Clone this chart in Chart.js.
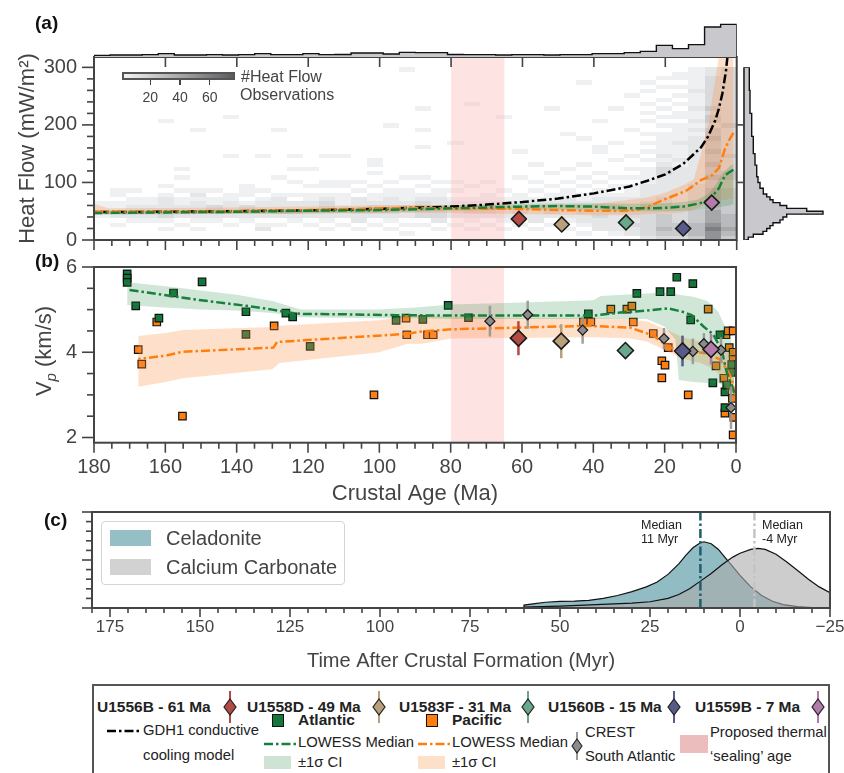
<!DOCTYPE html>
<html lang="en">
<head>
<meta charset="utf-8">
<title>Crustal age: heat flow, Vp and alteration timing</title>
<script src="https://cdn.jsdelivr.net/npm/chart.js@4.4.1/dist/chart.umd.min.js"></script>
<style>
html, body { margin: 0; padding: 0; background: #ffffff; }
body { position: relative; width: 844px; height: 773px; overflow: hidden;
  font-family: "Liberation Sans", Arial, Helvetica, sans-serif; color: #444; }
canvas { position: absolute; }
.lbl { position: absolute; white-space: nowrap; line-height: 1.15; transform: translateY(-50%); }
.panel { font-weight: bold; font-size: 19px; color: #111; }
.box { position: absolute; box-sizing: border-box; }
svg { position: absolute; overflow: visible; }
</style>
</head>
<body>
<canvas id="cHeat" width="844" height="262" style="left:0;top:0"></canvas>
<canvas id="cAgeHist" width="844" height="60" style="left:0;top:0"></canvas>
<canvas id="cHfHist" width="108" height="262" style="left:736px;top:0"></canvas>
<canvas id="cVp" width="844" height="265" style="left:0;top:250px"></canvas>
<canvas id="cTime" width="844" height="175" style="left:0;top:500px"></canvas>
<div id="overlay"></div>
<script>
// ================= data: panel (a) heat flow =================
const AGE_MAX = 180;              // Ma
const AGE_BIN = 4.5;              // Ma per heat-flow density column
const HF_BIN = 7.5;               // mW/m2 per heat-flow density row
const HF_TOP = 318;               // upper heat-flow limit shown
const SEALING_AGE = [65, 80];     // proposed thermal sealing window, Ma

// representative observation count of each density class (0 = empty)
const DENSITY_CLASS_COUNTS = [0, 3, 8, 14, 22, 30, 40, 50, 60, 70];
// one string per age column, oldest (180-175.5 Ma) first: "row:class" pairs
const heatColumns = [
  "5:1 6:2 7:1 8:1",
  "3:1 5:2 6:2 7:1 8:1 10:1 11:1",
  "4:1 5:2 6:3 7:2 8:1 9:1 11:1",
  "4:1 5:2 6:2 7:2 8:1 9:1",
  "2:1 4:1 5:3 6:3 7:2 8:2 9:2 10:1 12:1 27:1",
  "3:1 5:2 6:2 7:2 8:1 9:1 11:1 14:1 16:1",
  "2:1 4:1 5:2 6:3 7:2 8:2 9:1 10:2 11:1 25:1",
  "4:1 5:2 6:3 7:3 8:1 9:1 11:1",
  "3:1 5:2 6:2 7:2 8:2 9:1 10:1 19:1 28:1",
  "4:1 5:2 6:2 7:3 8:1 10:1 11:1 12:1",
  "2:2 3:1 5:2 6:2 7:2 8:2 9:1 11:1 19:1",
  "3:1 5:2 6:3 7:2 8:2 9:2 10:1 14:1 25:1",
  "4:1 5:2 6:3 7:2 8:2 10:1 13:1 16:1 19:1",
  "3:1 5:2 6:2 7:2 8:2 9:1 10:1 12:1 16:1",
  "2:1 4:1 5:2 6:2 7:3 8:3 9:2 10:1 12:1 13:1 19:1",
  "3:1 5:2 6:2 7:2 8:1 9:1 10:1 12:1 13:1 19:1",
  "2:1 4:2 5:2 6:3 7:2 8:2 9:2 11:1 13:1",
  "3:1 5:2 6:3 7:3 8:2 9:1 10:1 12:1 15:1 17:1 18:1",
  "2:1 4:1 5:2 6:3 7:3 8:2 9:2 10:1 11:1 13:1 26:1",
  "1:1 3:1 5:2 6:2 7:3 8:2 9:1 10:1 11:1 14:1 39:1",
  "3:1 5:3 6:3 7:4 8:3 9:2 10:1 12:1 14:1 21:1 25:1 30:1",
  "2:1 4:2 5:3 6:3 7:3 8:2 9:2 10:1 11:1 13:1",
  "3:1 5:2 6:2 7:2 8:2 9:1 11:1 13:1 22:1",
  "2:1 4:1 5:2 6:3 7:2 8:2 9:1 12:1 31:1",
  "3:1 5:2 6:3 7:3 8:2 9:1 10:1 13:1",
  "2:1 4:1 5:2 6:2 7:2 8:2 9:1 11:1 28:1",
  "3:1 5:2 6:3 7:2 8:2 9:1 10:1 14:1 20:1",
  "2:1 4:2 5:2 6:2 7:2 8:2 9:1 11:1 13:1 17:1",
  "3:1 5:2 6:3 7:2 8:2 9:1 10:1 12:1 15:1 30:1",
  "2:1 4:1 5:2 6:2 7:2 8:2 9:2 10:1 11:1 13:1 16:1 24:1",
  "1:1 3:1 4:2 5:2 6:3 7:2 8:2 9:1 10:1 12:1 14:1 17:1 23:1 36:1",
  "2:2 3:2 4:2 5:3 6:3 7:2 8:2 9:2 10:1 11:1 13:1 15:1 20:1 21:1 27:1",
  "1:1 2:2 3:2 4:2 5:2 6:3 7:3 8:2 9:2 10:1 12:1 14:1 18:1 22:1 30:1",
  "1:2 2:2 3:3 4:2 5:3 6:3 7:2 8:2 9:2 10:1 11:1 12:1 14:1 16:1 19:1 25:1 33:1",
  "0:2 1:3 2:3 3:3 4:3 5:3 6:3 7:3 8:3 9:2 10:2 11:2 12:2 13:1 14:1 15:1 16:1 18:1 20:1 22:1 24:1 27:1 29:1 31:1 34:1 36:1",
  "0:3 1:4 2:5 3:4 4:4 5:4 6:3 7:3 8:3 9:3 10:2 11:2 12:2 13:2 14:2 15:3 16:3 17:2 18:1 19:2 20:1 21:1 22:1 23:1 24:1 26:1 28:1 30:1 32:1 35:1 37:1",
  "0:3 1:4 2:4 3:4 4:3 5:3 6:3 7:3 8:2 9:2 10:2 11:2 12:2 13:2 14:2 15:2 16:2 17:1 18:2 19:1 20:1 21:1 22:2 23:1 24:1 25:1 26:1 28:1 29:1 31:1 33:1 35:1 37:1 38:1",
  "0:4 1:5 2:5 3:5 4:4 5:4 6:4 7:3 8:3 9:3 10:3 11:3 12:3 13:2 14:2 15:2 16:2 17:2 18:2 19:2 20:2 21:2 22:2 23:2 24:1 25:2 26:1 27:2 28:1 29:1 30:2 31:1 32:1 33:1 34:2 35:1 36:1 37:1 38:1 39:1",
  "0:7 1:7 2:8 3:7 4:6 5:6 6:6 7:5 8:5 9:5 10:5 11:5 12:4 13:4 14:5 15:4 16:4 17:5 18:4 19:4 20:5 21:4 22:4 23:5 24:4 25:4 26:3 27:4 28:4 29:3 30:4 31:3 32:3 33:3 34:3 35:3 36:3 37:3 38:2 39:2",
  "0:4 1:5 2:6 3:5 4:5 5:5 6:4 7:4 8:4 9:4 10:4 11:4 12:3 13:3 14:4 15:4 16:3 17:3 18:3 19:4 20:3 21:3 22:3 23:3 24:3 25:3 26:4 27:3 28:3 29:3 30:3 31:3 32:3 33:3 34:3 35:3 36:3 37:3 38:3 39:3"
];
const COUNT_MIN = 1, COUNT_MAX = 77;   // colour-bar range

// marginal histogram of sites per 4.5 Ma age bin, youngest (0-4.5 Ma) first
const ageHistCounts = [1960,1800,740,500,700,340,260,200,200,140, 140,120,140,140,120,140,140,150,260,260,
                       280,180,240,240,150,140,200,140,140,200, 140,120,140,120,120,200,140,120,120,100];
// marginal histogram of sites per 5 mW/m2 heat-flow bin, 0-5 first
const HF_HIST_BIN = 5;
const hfHistCounts = [86,186,380,454,520,580,720,780,854,1580, 1254,854,720,580,520,454,386,386,320,320,
                      280,280,254,254,254,254,220,220,220,220, 186,186,186,186,186,186,
                      154,154,154,154,154,154,154,154, 120,120,120,120,120,120,120,120,
                      106,106,106,106,106,106,106,106];

// GDH1 conductive cooling model
const gdhAge = [2.6,3,4,5,6,8,10,15,20,25,30,40,50,60,70,80,100,120,140,160,180];
const gdhHF  = [318,294,255,228,208,180,161,132,114,103,93,81,72,66,61.5,58,54,51.5,50,49,48.5];
// Pacific LOWESS median and ±1σ band of heat flow
const pacAgeA = [0.9,2,3.3,5,7,10,14,18,22,24,28,32,40,50,60,80,100,120,140,160,176,180];
const pacHFA  = [186,175,158,125,112,104,86,76,66,60,52,51,51,52,54,55,55,52,50,49,49,49];
const pacCiAgeA = [0.9,5,6.5,8,10,12,15,20,25,30,40,60,80,100,120,150,176,180];
const pacCiLoA  = [72,69,66,63,58,53,48,46,45,43,43,45,47,47,46,45,45,45];
const pacCiHiA  = [318,318,260,200,150,105,95,82,74,70,62,60,61,60,58,56,55,63];
// Atlantic LOWESS median and ±1σ band of heat flow
const atlAgeA = [0.9,2,3.3,5,7,9,11,15,20,25,30,40,50,60,80,100,120,140,160,180];
const atlHFA  = [122,118,112,90,75,66,63,58,56,55,55,58,59,58,55,52,51,49,48,47];
const atlCiAgeA = [0.9,2,4,6,8,11,15,20,30,40,60,80,100,120,150,180];
const atlCiLoA  = [62,60,58,56,54,52,51,50,50,52,53,51,48,46,45,44];
const atlCiHiA  = [132,128,115,95,80,70,66,64,63,64,63,60,57,54,52,51];

// drill sites
const siteNames = ['U1556B', 'U1558D', 'U1583F', 'U1560B', 'U1559B'];
const siteAges = [61, 49, 31, 15, 7];
const siteHeatFlow = [36.5, 27, 30.5, 20, 65];
const siteVp = [4.33, 4.26, 4.04, 4.03, 4.07];
const siteVpErr = [0.4, 0.4, 0, 0.36, 0.36];

// ================= data: panel (b) Vp =================
const atlSqAge = [170.7,170.7,170.7,168.3,161.8,157.7,149.7,137.4,137.4,126.2,124.3,119.4,95.3,87.8,80.7,75.0,
                  41.4,27.8,21.3,18.3,16.6,12.1,12.7,6.5,4.5,3.1,3.1,1.2,1.2,2.6];
const atlSqVp  = [5.84,5.74,5.64,5.09,4.80,5.39,5.65,4.95,4.42,4.92,4.83,4.14,4.75,4.77,5.10,4.81,
                  4.90,5.38,5.42,5.42,5.76,5.61,4.76,3.28,4.41,3.07,2.70,3.71,3.53,3.23];
const pacSqAge = [167.6,166.6,162.4,155.2,129.5,101.5,92.5,92.3,86.5,84.9,42.8,40.7,35.1,30.6,29.2,28.8,23.2,
                  20.8,19.9,20.8,19.0,13.4,7.8,5.6,3.4,3.1,2.8,2.2,1.9,0.8,0.8,0.8,1.0,0.6,0.8];
const pacSqVp  = [4.06,3.72,4.71,2.50,4.62,3.00,4.80,4.41,4.41,4.41,4.71,4.71,5.01,5.01,5.08,4.71,4.44,
                  3.80,3.70,3.40,4.11,3.00,5.01,3.68,3.39,2.57,4.41,4.50,4.11,4.50,4.00,3.83,2.92,2.47,2.06];
const crestAge = [69, 58.4, 43, 20.2, 12.1, 9, 4.2, 1.4];
const crestVp  = [4.73, 4.88, 4.52, 4.32, 4.02, 4.20, 4.05, 2.70];
const crestErr = [0.36, 0.33, 0.32, 0.25, 0.30, 0.25, 0.30, 0.50];

const atlAgeB = [0.5,1.2,2.6,4,6.4,9.2,12.4,15,19,25,32.5,40,60,80,95,110,122,126,130,137.4,150,157.7,165,170.7];
const atlVpB  = [3.05,3.23,3.53,4.05,4.42,4.61,4.87,4.95,5.03,4.98,4.93,4.86,4.86,4.86,4.87,4.89,4.90,4.94,5.0,5.09,5.22,5.31,5.40,5.47];
const atlCiAgeB = [0.5,1.5,3,5,8,12,16,17,20,25,38,40,60,80,90,100,122,130,140,150,160,170.7];
const atlCiLoB  = [2.90,3.10,3.20,3.28,3.28,3.30,3.35,4.30,4.60,4.78,4.78,4.78,4.78,4.78,4.80,4.80,4.82,4.92,4.98,5.00,5.05,5.11];
const atlCiHiB  = [4.00,4.30,4.60,4.95,5.20,5.30,5.35,5.38,5.40,5.38,5.32,5.22,5.17,5.12,5.05,5.00,5.00,5.20,5.35,5.45,5.55,5.64];
const pacAgeB = [0.3,1.2,2.6,4.5,8.2,14.8,19,23.2,29.7,41.9,60,79.3,87.9,92.5,110,128.7,129.7,140,155.2,160,167.6];
const pacVpB  = [3.0,3.38,3.60,3.83,3.98,4.02,4.13,4.39,4.58,4.62,4.58,4.54,4.49,4.43,4.34,4.24,4.11,4.07,4.01,3.92,3.84];
const pacCiAgeB = [0.5,2,4,6,10,15,20,25,30,40,80,88,92,100,128,130,155,160,167.6];
const pacCiLoB  = [2.6,3.0,3.4,3.6,3.75,3.85,4.05,4.25,4.33,4.35,4.32,4.20,4.20,4.0,3.75,3.60,3.39,3.3,3.19];
const pacCiHiB  = [3.8,4.0,4.1,4.2,4.25,4.35,4.55,4.72,4.78,4.80,4.82,4.88,4.84,4.75,4.62,4.59,4.52,4.45,4.38];

// ================= data: panel (c) alteration timing =================
const celTime = [-25,-20,-16,-12,-9,-6,-3,0,2,4,6,8,10,11,13,15,17,20,23,26,30,34,38,42,46,50,54,57,60,60];
const celDens = [0,0.005,0.015,0.035,0.07,0.13,0.22,0.34,0.43,0.52,0.61,0.67,0.69,0.68,0.63,0.55,0.46,0.35,0.27,0.22,
                 0.17,0.13,0.10,0.08,0.072,0.068,0.06,0.045,0.03,0];
const carbTime = [-25,-22,-19,-16,-13,-10,-7,-5,-3,0,2,5,8,11,14,17,20,25,30,40,50,60,60];
const carbDens = [0.16,0.22,0.30,0.39,0.48,0.56,0.61,0.62,0.61,0.57,0.53,0.45,0.36,0.28,0.20,0.14,0.10,0.065,0.05,0.035,0.02,0.01,0];
const celMedian = 11;
const carbMedian = -4;

// ================= styles =================
const AXIS_COLOR = '#444';
const SANS = '"Liberation Sans", Arial, Helvetica, sans-serif';
const DASH_DOT = [9, 3, 2.5, 3];
const ATL_GREEN = '#16803c';
const ATL_SQUARE = '#13763a';
const PAC_ORANGE = '#ff7f0e';
const ATL_BAND = 'rgba(40,140,70,0.22)';
const PAC_BAND = 'rgba(253,150,80,0.30)';
const SEAL_PINK = 'rgba(252,185,185,0.40)';
const SITE_COLORS = ['#b34a45', '#b9a07b', '#69a88a', '#585b8a', '#b27ba9'];
const CREST_GREY = '#8c8c8c';

Chart.defaults.font.family = SANS;
Chart.defaults.color = AXIS_COLOR;

const xy = (xs, ys) => xs.map((x, i) => ({ x, y: ys[i] }));
function steps(from, to, step) {
  const out = [];
  for (let v = from; v <= to + 1e-9; v += step) out.push(+v.toFixed(6));
  return out;
}
function greyFor(count) {
  const t = Math.max(0, Math.min(1, (count - COUNT_MIN) / (COUNT_MAX - COUNT_MIN)));
  return `rgb(${Math.round(242 - 150 * t)},${Math.round(244 - 151 * t)},${Math.round(245 - 148 * t)})`;
}

// tick marks (major/minor) and frame drawn through each chart's scales
function makeDecor(cfg) {
  return {
    id: 'decor',
    afterDatasetsDraw(chart) {
      const { ctx, chartArea: a } = chart;
      ctx.save();
      ctx.strokeStyle = AXIS_COLOR;
      ctx.lineCap = 'butt';
      for (const m of (cfg.marks || [])) {
        const s = chart.scales[m.axis];
        ctx.lineWidth = 1.6;
        for (const v of m.values) {
          const q = m.majorEvery ? v / m.majorEvery : 0;
          const major = !m.majorEvery || Math.abs(q - Math.round(q)) < 1e-6;
          const len = major ? m.long : m.short;
          const p = s.getPixelForValue(v);
          ctx.beginPath();
          if (m.side === 'bottom') { ctx.moveTo(p, a.bottom); ctx.lineTo(p, a.bottom + len); }
          else if (m.side === 'topIn') { ctx.moveTo(p, a.top); ctx.lineTo(p, a.top + len); }
          else if (m.side === 'left') { ctx.moveTo(a.left, p); ctx.lineTo(a.left - len, p); }
          else if (m.side === 'right') { ctx.moveTo(a.right, p); ctx.lineTo(a.right + len, p); }
          ctx.stroke();
        }
      }
      ctx.lineWidth = 2;
      if (cfg.frame) ctx.strokeRect(a.left, a.top, a.right - a.left, a.bottom - a.top);
      if (cfg.leftSpine) {
        ctx.beginPath(); ctx.moveTo(a.left, a.top); ctx.lineTo(a.left, a.bottom); ctx.stroke();
      }
      ctx.restore();
    }
  };
}

// 2-D histogram of heat-flow observations, drawn beneath the datasets
const heatCells = {
  id: 'heatCells',
  beforeDatasetsDraw(chart) {
    const { ctx, chartArea: a, scales: { x, y } } = chart;
    ctx.save();
    ctx.beginPath(); ctx.rect(a.left, a.top, a.right - a.left, a.bottom - a.top); ctx.clip();
    heatColumns.forEach((col, c) => {
      const ageOld = AGE_MAX - c * AGE_BIN, ageYoung = ageOld - AGE_BIN;
      const xa = Math.round(x.getPixelForValue(ageOld)), xb = Math.round(x.getPixelForValue(ageYoung));
      col.trim().split(/\s+/).forEach(tok => {
        const [r, k] = tok.split(':').map(Number);
        const ya = Math.round(y.getPixelForValue((r + 1) * HF_BIN));
        const yb = Math.round(y.getPixelForValue(r * HF_BIN));
        ctx.fillStyle = greyFor(DENSITY_CLASS_COUNTS[k]);
        ctx.fillRect(xa, ya, xb - xa, yb - ya);
      });
    });
    ctx.restore();
  }
};

// vertical ±1σ bars drawn just before the markers of a dataset
const errorBars = {
  id: 'errorBars',
  beforeDatasetDraw(chart, args) {
    const ds = chart.data.datasets[args.index];
    if (!ds.errors) return;
    const { ctx } = chart, ys = chart.scales.y;
    ctx.save();
    ctx.lineWidth = 2.5;
    args.meta.data.forEach((pt, i) => {
      const e = ds.errors[i];
      if (!e) return;
      const v = ds.data[i].y;
      ctx.strokeStyle = Array.isArray(ds.errorColor) ? ds.errorColor[i] : ds.errorColor;
      ctx.beginPath();
      ctx.moveTo(pt.x, ys.getPixelForValue(v - e));
      ctx.lineTo(pt.x, ys.getPixelForValue(v + e));
      ctx.stroke();
    });
    ctx.restore();
  }
};

const baseOptions = {
  responsive: false, animation: false, devicePixelRatio: 1, events: [],
  plugins: { legend: { display: false }, tooltip: { enabled: false } },
  elements: { line: { tension: 0 }, point: { radius: 0 } }
};
const hiddenGrid = len => ({ display: true, drawOnChartArea: false, drawTicks: true, tickLength: len, color: 'rgba(0,0,0,0)' });
const band = (xs, ys, target, color, order) =>
  ({ data: xy(xs, ys), fill: target, backgroundColor: color, borderWidth: 0, borderColor: 'rgba(0,0,0,0)', pointRadius: 0, order });
const dashLine = (xs, ys, color, order) =>
  ({ data: xy(xs, ys), fill: false, borderColor: color, borderWidth: 2.5, borderDash: DASH_DOT, pointRadius: 0, order });

// ================= panel (a): heat flow =================
new Chart(document.getElementById('cHeat'), {
  type: 'line',
  data: { datasets: [
    { data: [{ x: SEALING_AGE[0], y: HF_TOP }, { x: SEALING_AGE[1], y: HF_TOP }], fill: 'start',
      backgroundColor: SEAL_PINK, borderWidth: 0, pointRadius: 0, order: 10 },
    band(pacCiAgeA, pacCiHiA, 2, PAC_BAND, 9),
    band(pacCiAgeA, pacCiLoA, false, PAC_BAND, 9),
    band(atlCiAgeA, atlCiHiA, 4, ATL_BAND, 8),
    band(atlCiAgeA, atlCiLoA, false, ATL_BAND, 8),
    dashLine(gdhAge, gdhHF, '#000', 5),
    dashLine(pacAgeA, pacHFA, PAC_ORANGE, 4),
    dashLine(atlAgeA, atlHFA, ATL_GREEN, 3),
    { data: xy(siteAges, siteHeatFlow), showLine: false, pointStyle: 'rectRot', pointRadius: 7.5,
      pointBackgroundColor: SITE_COLORS, pointBorderColor: '#1a1a1a', pointBorderWidth: 1.6, order: 1 }
  ] },
  options: { ...baseOptions,
    layout: { padding: { left: 0, right: 107.3, top: 57, bottom: 12 } },
    scales: {
      x: { type: 'linear', min: 0, max: AGE_MAX, reverse: true,
           afterFit: s => { s.height = 10; },
           ticks: { display: false }, grid: hiddenGrid(10), border: { display: false } },
      y: { type: 'linear', min: 0, max: HF_TOP,
           afterFit: s => { s.width = 94; },
           afterBuildTicks: s => { s.ticks = [0, 100, 200, 300].map(value => ({ value })); },
           ticks: { font: { size: 20 }, color: AXIS_COLOR, padding: 5 },
           grid: hiddenGrid(12), border: { display: false },
           title: { display: true, text: 'Heat Flow (mW/m\u00B2)', font: { size: 22 }, color: AXIS_COLOR,
                    padding: { top: 15, bottom: 0 } } }
    }
  },
  plugins: [heatCells, makeDecor({ frame: true, marks: [
    { axis: 'x', side: 'bottom', values: steps(0, 180, 5), majorEvery: 20, long: 10, short: 6 },
    { axis: 'x', side: 'topIn', values: steps(20, 160, 20), long: 10 },
    { axis: 'y', side: 'left', values: steps(0, 300, 20), majorEvery: 100, long: 12, short: 7 },
    { axis: 'y', side: 'right', values: [100, 200], long: 7 }
  ] })]
});

// marginal histogram of crustal age (above panel a)
const ageOutline = [{ x: 0, y: 0 }];
ageHistCounts.forEach((c, i) => { ageOutline.push({ x: i * AGE_BIN, y: c }, { x: (i + 1) * AGE_BIN, y: c }); });
ageOutline.push({ x: AGE_MAX, y: 0 });
new Chart(document.getElementById('cAgeHist'), {
  type: 'line',
  data: { datasets: [{ data: ageOutline, fill: 'origin', backgroundColor: '#c9c9cd',
                       borderColor: '#111', borderWidth: 1.4, pointRadius: 0 }] },
  options: { ...baseOptions,
    layout: { padding: { left: 94, right: 107.3, top: 20, bottom: 3 } },
    scales: { x: { type: 'linear', display: false, min: 0, max: AGE_MAX, reverse: true },
              y: { type: 'linear', display: false, min: 0, max: 2220 } } }
});

// marginal histogram of heat flow (right of panel a)
const hfOutline = [{ x: 0, y: 0 }];
hfHistCounts.forEach((c, i) => { hfOutline.push({ x: c, y: i * HF_HIST_BIN }, { x: c, y: (i + 1) * HF_HIST_BIN }); });
hfOutline.push({ x: 0, y: hfHistCounts.length * HF_HIST_BIN });
new Chart(document.getElementById('cHfHist'), {
  type: 'line',
  data: { datasets: [{ data: hfOutline, fill: 'origin', backgroundColor: '#c9c9cd',
                       borderColor: '#111', borderWidth: 1.4, pointRadius: 0 }] },
  options: { ...baseOptions, indexAxis: 'y',
    layout: { padding: { left: 8, right: 10, top: 67.3, bottom: 22 } },
    scales: { x: { type: 'linear', display: false, min: 0, max: 1800 },
              y: { type: 'linear', display: false, min: 0, max: 300 } } },
  plugins: [makeDecor({ leftSpine: true })]
});

// ================= panel (b): Vp =================
new Chart(document.getElementById('cVp'), {
  type: 'line',
  data: { datasets: [
    { data: [{ x: SEALING_AGE[0], y: 6 }, { x: SEALING_AGE[1], y: 6 }], fill: 'start',
      backgroundColor: SEAL_PINK, borderWidth: 0, pointRadius: 0, order: 30 },
    { data: xy(atlSqAge, atlSqVp), showLine: false, pointStyle: 'rect', pointRadius: 5.3,
      pointBackgroundColor: ATL_SQUARE, pointBorderColor: '#111', pointBorderWidth: 1.2, order: 20 },
    { data: xy(pacSqAge, pacSqVp), showLine: false, pointStyle: 'rect', pointRadius: 5.3,
      pointBackgroundColor: PAC_ORANGE, pointBorderColor: '#111', pointBorderWidth: 1.2, order: 20 },
    band(pacCiAgeB, pacCiHiB, 4, PAC_BAND, 12),
    band(pacCiAgeB, pacCiLoB, false, PAC_BAND, 12),
    band(atlCiAgeB, atlCiHiB, 6, ATL_BAND, 11),
    band(atlCiAgeB, atlCiLoB, false, ATL_BAND, 11),
    dashLine(pacAgeB, pacVpB, PAC_ORANGE, 6),
    dashLine(atlAgeB, atlVpB, ATL_GREEN, 5),
    { data: xy(crestAge, crestVp), showLine: false, pointStyle: 'rectRot', pointRadius: 5,
      pointBackgroundColor: CREST_GREY, pointBorderColor: '#1a1a1a', pointBorderWidth: 1.3,
      errors: crestErr, errorColor: 'rgba(150,150,150,0.9)', order: 2 },
    { data: xy(siteAges, siteVp), showLine: false, pointStyle: 'rectRot', pointRadius: 8,
      pointBackgroundColor: SITE_COLORS, pointBorderColor: '#1a1a1a', pointBorderWidth: 1.6,
      errors: siteVpErr, errorColor: SITE_COLORS, order: 1 }
  ] },
  options: { ...baseOptions,
    layout: { padding: { left: 0, right: 108, top: 10, bottom: 0 } },
    scales: {
      x: { type: 'linear', min: 0, max: AGE_MAX, reverse: true,
           afterFit: s => { s.height = 72.3; },
           afterBuildTicks: s => { s.ticks = steps(0, 180, 20).map(value => ({ value })); },
           ticks: { font: { size: 20 }, color: AXIS_COLOR, padding: 3, maxRotation: 0, autoSkip: false },
           grid: hiddenGrid(10), border: { display: false },
           title: { display: true, text: 'Crustal Age (Ma)', font: { size: 22 }, color: AXIS_COLOR,
                    padding: { top: 0, bottom: 8 } } },
      y: { type: 'linear', min: 1.878, max: 6,
           afterFit: s => { s.width = 94; },
           afterBuildTicks: s => { s.ticks = [2, 4, 6].map(value => ({ value })); },
           ticks: { font: { size: 20 }, color: AXIS_COLOR, padding: 5 },
           grid: hiddenGrid(12), border: { display: false } }
    }
  },
  plugins: [errorBars, makeDecor({ frame: true, marks: [
    { axis: 'x', side: 'bottom', values: steps(0, 180, 5), majorEvery: 20, long: 10, short: 6 },
    { axis: 'y', side: 'left', values: steps(2, 6, 0.5), majorEvery: 2, long: 12, short: 7 }
  ] })]
});

// ================= panel (c): timing of alteration minerals =================
const minus = v => (v < 0 ? '\u2212' + Math.abs(v) : String(v));
new Chart(document.getElementById('cTime'), {
  type: 'line',
  data: { datasets: [
    { data: xy(celTime, celDens), fill: 'origin', backgroundColor: 'rgba(110,165,175,0.75)',
      borderColor: '#111', borderWidth: 1.2, pointRadius: 0, order: 4 },
    { data: xy(carbTime, carbDens), fill: 'origin', backgroundColor: 'rgba(172,172,172,0.6)',
      borderColor: '#111', borderWidth: 1.2, pointRadius: 0, order: 3 },
    { data: [{ x: celMedian, y: 0 }, { x: celMedian, y: 1 }], borderColor: '#1d5f6e', borderWidth: 2.5,
      borderDash: DASH_DOT, pointRadius: 0, order: 2 },
    { data: [{ x: carbMedian, y: 0 }, { x: carbMedian, y: 1 }], borderColor: '#c4c4c4', borderWidth: 2.5,
      borderDash: DASH_DOT, pointRadius: 0, order: 1 }
  ] },
  options: { ...baseOptions,
    layout: { padding: { left: 0, right: 14, top: 12, bottom: 0 } },
    scales: {
      x: { type: 'linear', min: -25, max: 180, reverse: true,
           afterFit: s => { s.height = 67; },
           afterBuildTicks: s => { s.ticks = steps(-25, 175, 25).map(value => ({ value })); },
           ticks: { font: { size: 17 }, color: AXIS_COLOR, padding: 1, maxRotation: 0,
                    autoSkip: false, callback: v => minus(v) },
           grid: hiddenGrid(8), border: { display: false },
           title: { display: true, text: 'Time After Crustal Formation (Myr)', font: { size: 20 },
                    color: AXIS_COLOR, padding: { top: 0, bottom: 2 } } },
      y: { type: 'linear', min: 0, max: 1,
           afterFit: s => { s.width = 92; },
           ticks: { display: false }, grid: hiddenGrid(10), border: { display: false } }
    }
  },
  plugins: [makeDecor({ frame: true, marks: [
    { axis: 'x', side: 'bottom', values: steps(-25, 180, 5), majorEvery: 25, long: 9, short: 5 },
    { axis: 'y', side: 'left', values: steps(0, 1, 0.1), majorEvery: 0.5, long: 10, short: 6 }
  ] })]
});

// ================= text, colour bar and legends =================
const overlay = document.getElementById('overlay');
function label(text, left, cy, css = '', cls = '') {
  const d = document.createElement('div');
  d.className = 'lbl ' + cls;
  d.style.cssText = `left:${left}px;top:${cy}px;${css}`;
  d.textContent = text;
  overlay.appendChild(d);
  return d;
}
function html(str) { overlay.insertAdjacentHTML('beforeend', str); }

label('(a)', 35, 23, '', 'panel');
label('(b)', 35, 261, '', 'panel');
label('(c)', 44, 520, '', 'panel');

// rotated Vp axis title with subscript
html(`<div class="lbl" style="left:45px;top:351px;transform:translate(-50%,-50%) rotate(-90deg);font-size:22px;color:${AXIS_COLOR}">V<sub style="font-style:italic;font-size:15px">p</sub> (km/s)</div>`);

// colour bar for heat-flow observation counts
const cbStops = steps(0, 1, 0.25).map(t => `${greyFor(COUNT_MIN + t * (COUNT_MAX - COUNT_MIN))} ${t * 100}%`).join(',');
html(`<div class="box" style="left:122px;top:72px;width:113px;height:8px;border:2px solid #555;background:linear-gradient(to right,${cbStops})"></div>`);
[20, 40, 60].forEach(c => {
  const x = 122 + (c - COUNT_MIN) / (COUNT_MAX - COUNT_MIN) * 113;
  html(`<div class="box" style="left:${x - 0.75}px;top:80px;width:1.5px;height:5px;background:#444"></div>`);
  label(String(c), x, 97, 'transform:translate(-50%,-50%);font-size:14px;color:#444');
});
label('#Heat Flow', 241, 77, 'font-size:16px;color:#444');
label('Observations', 240, 95, 'font-size:16px;color:#444');

// panel (c) legend and median notes
html(`<div class="box" style="left:101px;top:521px;width:244px;height:64px;border:1px solid #d4d4d4;border-radius:4px;background:rgba(255,255,255,0.85)"></div>`);
html(`<div class="box" style="left:110px;top:530px;width:41px;height:16px;background:#93bfc5"></div>`);
html(`<div class="box" style="left:110px;top:559px;width:41px;height:16px;background:#d2d2d2"></div>`);
label('Celadonite', 166, 538, 'font-size:20px;color:#444');
label('Calcium Carbonate', 166, 567, 'font-size:20px;color:#444');
label('Median', 641, 525, 'font-size:12.5px;color:#222');
label(`${celMedian} Myr`, 641, 539, 'font-size:12.5px;color:#222');
label('Median', 762, 525, 'font-size:12.5px;color:#222');
label(`${carbMedian} Myr`, 762, 539, 'font-size:12.5px;color:#222');

// bottom legend
html(`<div class="box" style="left:92px;top:684px;width:738px;height:110px;border:2px solid #555"></div>`);
const siteTextLeft = [97, 247, 399, 548, 695];
const siteIconX = [229.5, 379, 528, 674, 818];
siteNames.forEach((name, i) => {
  label(`${name} - ${siteAges[i]} Ma`, siteTextLeft[i], 707, 'font-size:15.5px;font-weight:bold;color:#222');
  const c = SITE_COLORS[i];
  html(`<svg width="14" height="32" style="left:${siteIconX[i] - 7}px;top:691px"><line x1="7" y1="0" x2="7" y2="32" stroke="${c}" stroke-width="2"/><polygon points="7,8 13,16 7,24 1,16" fill="${c}" stroke="#222" stroke-width="1.2"/></svg>`);
});
const dd = DASH_DOT.join(',');
const LEG = 'font-size:14.8px;color:#222';
html(`<svg width="34" height="4" style="left:107px;top:729px"><line x1="0" y1="2" x2="34" y2="2" stroke="#000" stroke-width="2.5" stroke-dasharray="${dd}"/></svg>`);
label('GDH1 conductive', 143, 731, LEG);
label('cooling model', 143, 756, LEG);

[[ATL_SQUARE, ATL_GREEN, '#cfe3d4', 'Atlantic', 264, 298], [PAC_ORANGE, PAC_ORANGE, '#fde0c8', 'Pacific', 418, 452]]
  .forEach(([sq, ln, sw, name, x0, tx]) => {
    html(`<div class="box" style="left:${x0 + 8}px;top:714px;width:12px;height:13px;background:${sq};border:1.5px solid #111"></div>`);
    html(`<svg width="32" height="4" style="left:${x0}px;top:742px"><line x1="0" y1="2" x2="32" y2="2" stroke="${ln}" stroke-width="2.5" stroke-dasharray="${dd}"/></svg>`);
    html(`<div class="box" style="left:${x0}px;top:756px;width:27px;height:13px;background:${sw}"></div>`);
    label(name, tx, 720, 'font-size:15.5px;font-weight:bold;color:#222');
    label('LOWESS Median', tx, 743, LEG);
    label('\u00B11\u03C3 CI', tx, 763, LEG);
  });

html(`<svg width="12" height="28" style="left:571px;top:732px"><line x1="6" y1="0" x2="6" y2="28" stroke="#999" stroke-width="2"/><polygon points="6,7 11,14 6,21 1,14" fill="${CREST_GREY}" stroke="#222" stroke-width="1.1"/></svg>`);
label('CREST', 585, 733, LEG);
label('South Atlantic', 585, 757, LEG);
html(`<div class="box" style="left:680px;top:735px;width:28px;height:18px;background:#ebbdbd"></div>`);
label('Proposed thermal', 710, 733, LEG);
label('\u2018sealing\u2019 age', 710, 757, LEG);
</script>
</body>
</html>
